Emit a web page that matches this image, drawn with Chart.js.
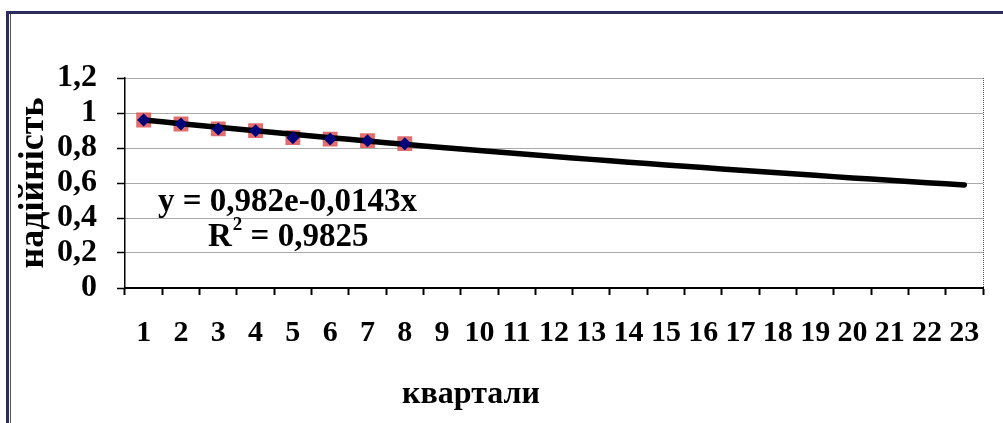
<!DOCTYPE html>
<html>
<head>
<meta charset="utf-8">
<script src="https://cdn.jsdelivr.net/npm/chart.js@4"></script>
<style>
  html, body { margin: 0; padding: 0; background: #fff; }
  #wrap { width: 1003px; height: 423px; }
</style>
</head>
<body>
<div id="wrap"><canvas id="grafico" width="1003" height="423"></canvas></div>
<script>
// дані
const kvartaly = ['1','2','3','4','5','6','7','8','9','10','11','12','13','14','15','16','17','18','19','20','21','22','23'];
const nadiynist = [0.96, 0.937, 0.909, 0.899, 0.859, 0.851, 0.842, 0.825];
const trend = [0.960, 0.939, 0.918, 0.898, 0.878, 0.859, 0.840, 0.821, 0.803, 0.786, 0.768, 0.752,
               0.735, 0.719, 0.703, 0.688, 0.673, 0.658, 0.644, 0.629, 0.616, 0.602, 0.589];
const yTicks = [0, 0.2, 0.4, 0.6, 0.8, 1, 1.2];
const yLabels = ['0', '0,2', '0,4', '0,6', '0,8', '1', '1,2'];
const rivnyannya = 'y = 0,982e-0,0143x';
const r2 = '0,9825';

const serif = 'Liberation Serif, Times New Roman, serif';

const dekor = {
    id: 'dekor',
    beforeDraw(chart) {
        const ctx = chart.ctx;
        ctx.save();
        ctx.fillStyle = '#fff';
        ctx.fillRect(0, 0, chart.width, chart.height);
        // рамка
        ctx.fillStyle = '#2c2c5e';
        ctx.fillRect(6, 11, 3, chart.height - 11);
        ctx.fillRect(6, 11, chart.width - 6, 3);
        ctx.fillStyle = '#555';
        ctx.fillRect(10, 14, 1, chart.height - 14);
        ctx.restore();
    },
    afterDraw(chart) {
        const ctx = chart.ctx;
        const a = chart.chartArea;
        ctx.save();
        // права межа області побудови
        ctx.strokeStyle = '#555';
        ctx.lineWidth = 1;
        ctx.setLineDash([1, 1]);
        ctx.beginPath();
        ctx.moveTo(a.right + 0.5, a.top);
        ctx.lineTo(a.right + 0.5, a.bottom);
        ctx.stroke();
        ctx.setLineDash([]);

        ctx.fillStyle = '#000';
        ctx.textBaseline = 'alphabetic';
        // назва осі X
        ctx.font = 'bold 32px ' + serif;
        ctx.textAlign = 'center';
        ctx.fillText('квартали', 471, 403);

        // рівняння тренду
        ctx.textAlign = 'left';
        ctx.font = 'bold 33px ' + serif;
        ctx.fillText(rivnyannya, 158, 211);
        ctx.fillText('R', 208, 246);
        const wR = ctx.measureText('R').width;
        ctx.font = 'bold 19px ' + serif;
        ctx.fillText('2', 208 + wR + 1, 230);
        const w2 = ctx.measureText('2').width;
        ctx.font = 'bold 33px ' + serif;
        ctx.fillText(' = ' + r2, 208 + wR + w2 + 1, 246);
        ctx.restore();
    }
};

new Chart(document.getElementById('grafico'), {
    type: 'line',
    data: {
        labels: kvartaly,
        datasets: [
            {
                label: 'надійність',
                data: nadiynist,
                showLine: false,
                pointStyle: 'rectRot',
                pointRadius: 6.5,
                pointBackgroundColor: '#00007a',
                pointBorderWidth: 0,
                order: 0
            },
            {
                label: 'тренд',
                data: trend,
                borderColor: '#000',
                borderWidth: 5.5,
                pointRadius: 0,
                tension: 0.3,
                borderCapStyle: 'round',
                order: 1
            },
            {
                label: 'надійність (квадрати)',
                data: nadiynist,
                showLine: false,
                pointStyle: 'rect',
                pointRadius: 10.5,
                pointBackgroundColor: 'rgba(220, 84, 84, 0.85)',
                pointBorderWidth: 0,
                order: 2
            }
        ]
    },
    options: {
        responsive: false,
        animation: false,
        devicePixelRatio: 1,
        layout: { padding: { top: 78, right: 20, left: 0, bottom: 0 } },
        plugins: {
            legend: { display: false },
            tooltip: { enabled: false }
        },
        scales: {
            x: {
                type: 'category',
                offset: true,
                afterFit(scale) { scale.height = 135; },
                grid: {
                    offset: true,
                    drawOnChartArea: false,
                    tickLength: 7,
                    tickColor: '#000',
                    tickWidth: 2
                },
                border: { color: '#000', width: 2 },
                ticks: {
                    color: '#000',
                    font: { family: serif, size: 30, weight: 'bold' },
                    maxRotation: 0,
                    autoSkip: false,
                    padding: 20
                }
            },
            y: {
                min: 0,
                max: 1.2,
                afterFit(scale) { scale.width = 125; },
                afterBuildTicks(scale) { scale.ticks = yTicks.map(v => ({ value: v })); },
                grid: {
                    color: '#555',
                    lineWidth: 1,
                    tickLength: 8,
                    tickColor: '#000',
                    tickWidth: 1.5,
                    tickBorderDash: []
                },
                border: { color: '#000', width: 1.5, dash: [1, 1] },
                ticks: {
                    color: '#000',
                    font: { family: serif, size: 32, weight: 'bold' },
                    autoSkip: false,
                    padding: 20,
                    callback: (v, i) => yLabels[i]
                },
                title: {
                    display: true,
                    text: 'надійність',
                    color: '#000',
                    font: { family: serif, size: 36, weight: 'bold' },
                    padding: { top: 12, bottom: 0 }
                }
            }
        }
    },
    plugins: [dekor]
});
</script>
</body>
</html>
